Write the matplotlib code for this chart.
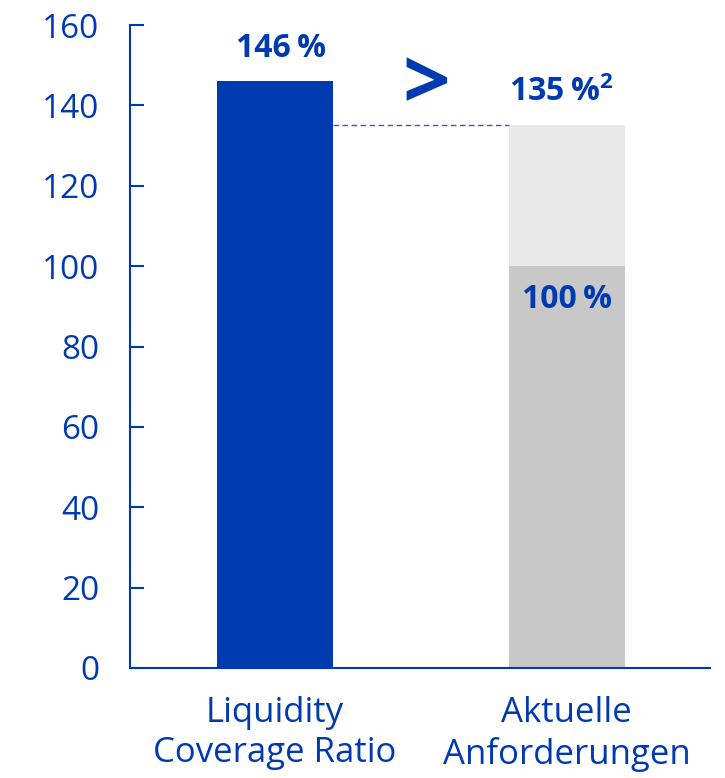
import matplotlib.pyplot as plt

# Werte
categories = ["Liquidity\nCoverage Ratio", "Aktuelle\nAnforderungen"]
lcr_value = 146
requirement_base = 100
requirement_total = 135
yticks = [0, 20, 40, 60, 80, 100, 120, 140, 160]

blue = "#003AB0"
dark_grey = "#C8C8C8"
light_grey = "#E9E9E9"

plt.rcParams['font.family'] = ['Open Sans', 'DejaVu Sans']
plt.rcParams['mathtext.fontset'] = 'custom'
plt.rcParams['mathtext.rm'] = 'Open Sans'
plt.rcParams['mathtext.bf'] = 'Open Sans:bold'

fig = plt.figure(figsize=(7.25, 7.78), dpi=100)
ax = fig.add_axes([130/725, 110/778, 580/725, 643/778])

w = 0.398
ax.bar(0, lcr_value, width=w, color=blue)
ax.bar(1, requirement_base, width=w, color=dark_grey)
ax.bar(1, requirement_total - requirement_base, bottom=requirement_base, width=w, color=light_grey)

# gestrichelte Verbindungslinie auf 135 %
ax.plot([w/2, 1 - w/2], [requirement_total, requirement_total], ls=(0, (4, 2.5)), lw=1, color="#2F5FC4")

lab = dict(fontsize=23, fontweight="bold", color=blue, va="baseline")
ax.text(0.02, lcr_value + 6, f"{lcr_value}\u2009%", ha="center", **lab)
ax.text(0.98, requirement_total + 6, f"{requirement_total}\u2009%$^\\mathbf{{2}}$", ha="center", **lab)
ax.text(1, requirement_base - 10.5, f"{requirement_base}\u2009%", ha="center", **lab)
ax.text(0.52, 144.3, ">", ha="center", va="center", fontsize=60, fontweight="bold", color=blue)

ax.set_xlim(-0.497, 1.492)
ax.set_ylim(0, 160)
ax.set_yticks(yticks)
ax.set_xticks([0, 1])
ax.set_xticklabels(categories, fontsize=25, color=blue, linespacing=1.25)
ax.tick_params(axis="x", length=0, pad=20)
ax.tick_params(axis="y", direction="in", length=10, width=1.5, color=blue, labelsize=24, labelcolor=blue, pad=22)

for s in ["top", "right"]:
    ax.spines[s].set_visible(False)
for s in ["left", "bottom"]:
    ax.spines[s].set_color(blue)
    ax.spines[s].set_linewidth(1.5)

fig.savefig("out.png", dpi=100)
